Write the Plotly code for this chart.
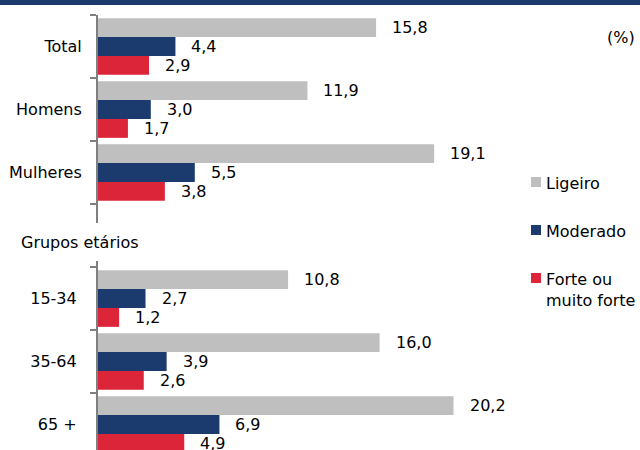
import plotly.graph_objects as go

# Categories (a blank slot separates the sex rows from the age groups);
# the age-group labels carry a trailing no-break space, as in the source layout
categories = ["Total", "Homens", "Mulheres", " ",
              "15-34\u00a0", "35-64\u00a0", "65 +\u00a0"]
series_names = ["Ligeiro", "Moderado", "Forte ou<br>muito forte"]
ligeiro = [15.8, 11.9, 19.1, None, 10.8, 16.0, 20.2]
moderado = [4.4, 3.0, 5.5, None, 2.7, 3.9, 6.9]
forte = [2.9, 1.7, 3.8, None, 1.2, 2.6, 4.9]
colors = ["#BFBFBF", "#1B3B6F", "#DC2538"]

FONT = "DejaVu Sans"
W, H = 640, 450
ML, MT = 98, 15
PX_PER_UNIT = 17.6
BAND = 63.0

plot_w = W - ML
plot_h = H - MT
x_max = plot_w / PX_PER_UNIT
y_bottom = -0.5 + plot_h / BAND

fig = go.Figure()
all_series = [ligeiro, moderado, forte]
for name, vals, col in zip(series_names, all_series, colors):
    fig.add_trace(go.Bar(
        y=categories, x=vals, orientation="h", name=name,
        marker=dict(color=col, line=dict(width=0)),
        showlegend=False, hoverinfo="skip",
    ))


def fmt(v):
    return f"{v:.1f}".replace(".", ",")


# value labels to the right of each bar
offsets = [-0.3, 0.0, 0.3]
for vals, off in zip(all_series, offsets):
    for i, v in enumerate(vals):
        if v is None:
            continue
        fig.add_annotation(
            x=v, y=i + off, xref="x", yref="y", text=fmt(v),
            showarrow=False, xanchor="left", yanchor="middle", xshift=14,
            font=dict(family=FONT, size=16, color="#000000"),
        )


def py(pix):
    """pixel row -> paper y"""
    return 1 - (pix - MT) / plot_h


def px(pix):
    """pixel column -> paper x"""
    return (pix - ML) / plot_w


# header strip
fig.add_shape(type="rect", xref="paper", yref="paper",
              x0=px(0), x1=px(W), y0=py(5), y1=py(0),
              fillcolor="#1B3B6F", line=dict(width=0), layer="above")

# break in the category axis for the age-group heading
fig.add_shape(type="rect", xref="paper", yref="paper",
              x0=px(0), x1=px(110), y0=py(261), y1=py(223),
              fillcolor="#FFFFFF", line=dict(width=0), layer="above")
fig.add_annotation(xref="paper", yref="paper", x=px(19), y=py(242),
                   text="Grupos etários", showarrow=False,
                   xanchor="left", yanchor="middle",
                   font=dict(family=FONT, size=16, color="#000000"))

# unit
fig.add_annotation(xref="paper", yref="paper", x=px(637), y=py(38),
                   text="(%)", showarrow=False, xanchor="right", yanchor="middle",
                   font=dict(family=FONT, size=16, color="#000000"))

# legend
legend_rows = [182, 230, 278]
for name, col, row in zip(series_names, colors, legend_rows):
    fig.add_shape(type="rect", xref="paper", yref="paper",
                  x0=px(531), x1=px(541), y0=py(row + 5), y1=py(row - 5),
                  fillcolor=col, line=dict(width=0))
    fig.add_annotation(xref="paper", yref="paper", x=px(544), y=py(row - 10),
                       text=name, showarrow=False, xanchor="left", yanchor="top",
                       align="left",
                       font=dict(family=FONT, size=16, color="#000000"))

fig.update_layout(
    width=W, height=H,
    margin=dict(l=ML, r=0, t=MT, b=0, pad=0),
    paper_bgcolor="#FFFFFF", plot_bgcolor="#FFFFFF",
    barmode="group", bargap=0.1, bargroupgap=0,
    font=dict(family=FONT, size=16, color="#000000"),
    showlegend=False,
    xaxis=dict(range=[0, x_max], visible=False, fixedrange=True),
    yaxis=dict(
        type="category", categoryorder="array", categoryarray=categories,
        range=[y_bottom, -0.5],
        showline=True, linecolor="#7F7F7F", linewidth=2,
        ticks="outside", ticklen=6, tickwidth=2, tickcolor="#7F7F7F",
        tickson="boundaries", ticklabelstandoff=11,
        showgrid=False, zeroline=False, fixedrange=True,
        tickfont=dict(family=FONT, size=16, color="#000000"),
    ),
)

fig.write_html("out.html")
